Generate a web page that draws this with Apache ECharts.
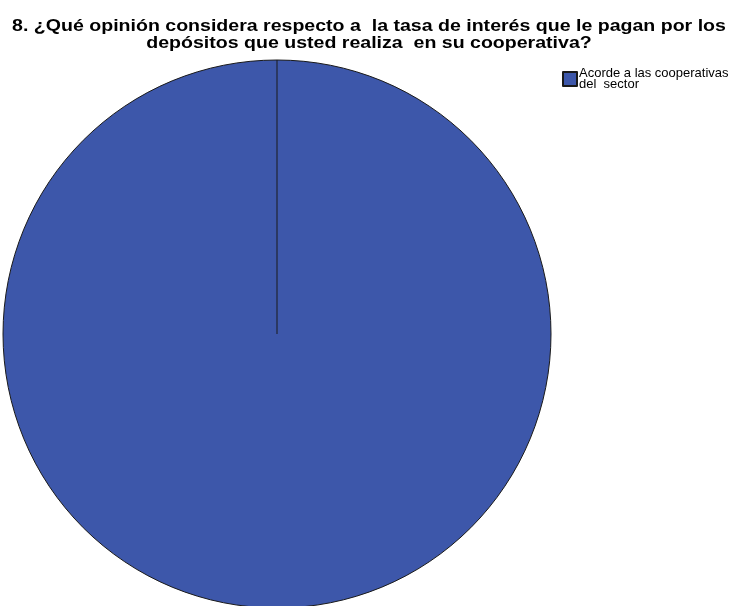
<!DOCTYPE html>
<html><head><meta charset="utf-8">
<script src="https://cdn.jsdelivr.net/npm/echarts@6/dist/echarts.min.js"></script>
<style>html,body{margin:0;padding:0;background:#fff}#c{width:738px;height:606px}</style>
</head><body><div id="c"></div>
<script>
const titleLines = [
  '8. ¿Qué opinión considera respecto a  la tasa de interés que le pagan por los',
  'depósitos que usted realiza  en su cooperativa?'
];
const categories = ["Acorde a las cooperativas\ndel  sector"];
const values = [100];
const colors = ["#3d57aa"];

const cx = 277, cy = 334, R = 274;
const chart = echarts.init(document.getElementById('c'));
chart.setOption({
  animation: false,
  backgroundColor: '#fff',
  legend: {
    orient: 'vertical', left: 562, top: 67, padding: 0,
    itemWidth: 14, itemHeight: 14, itemGap: 4,
    icon: 'rect',
    textStyle: { fontFamily: 'Liberation Sans, Arial', fontSize: 13, lineHeight: 11, color: '#000', padding: [0,0,0,-3] },
    data: categories
  },
  series: [{
    type: 'pie', center: [cx, cy], radius: R, startAngle: 90, clockwise: true,
    label: { show: false }, labelLine: { show: false }, emphasis: { disabled: true },
    itemStyle: { borderColor: '#1a1a1a', borderWidth: 1 },
    data: categories.map((c, i) => ({ name: c, value: values[i], itemStyle: { color: colors[i] } }))
  }],
  graphic: [
    {
      type: 'line', z: 100,
      shape: { x1: cx, y1: cy, x2: cx, y2: cy - R },
      style: { stroke: '#1a1a1a', lineWidth: 1 }
    }
  ].concat(titleLines.map((t, i) => ({
    type: 'text', x: 369, y: 26 + i * 17, scaleX: 1.15, z: 100,
    style: { text: t, fill: '#000', font: 'bold 17px "Liberation Sans", Arial', textAlign: 'center', textVerticalAlign: 'middle', verticalAlign: 'middle' }
  })))
});
</script></body></html>
